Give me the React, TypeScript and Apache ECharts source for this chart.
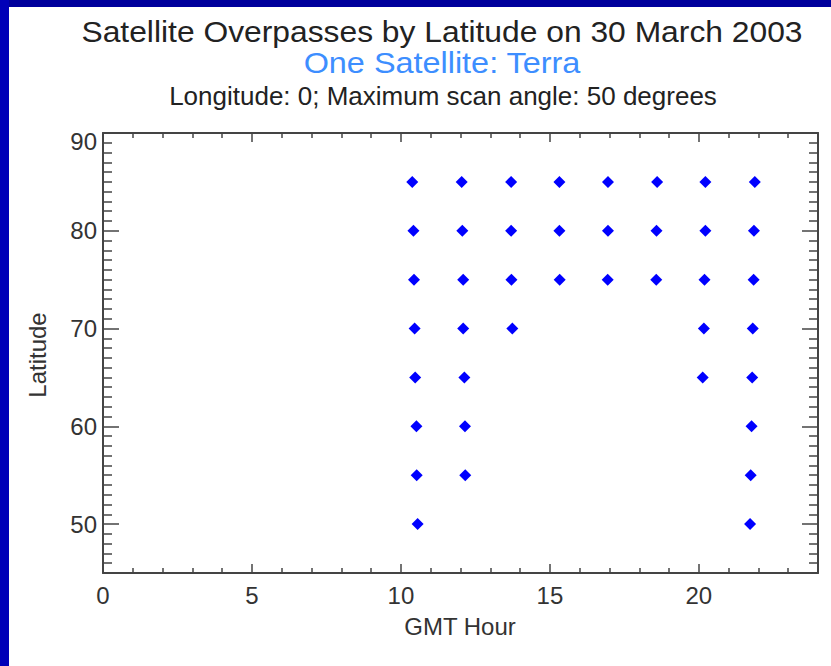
import React, { useEffect, useRef } from "react";
import * as echarts from "echarts";

// ---- data ----
const titleText = "Satellite Overpasses by Latitude on 30 March 2003";
const subtitleText = "One Satellite: Terra";
const noteText = "Longitude: 0; Maximum scan angle: 50 degrees";
const xName = "GMT Hour";
const yName = "Latitude";

// overpass hours (GMT) at each latitude
const hours85 = [10.38, 12.04, 13.7, 15.32, 16.95, 18.6, 20.22, 21.88];
const hours80 = [10.42, 12.06, 13.7, 15.32, 16.95, 18.58, 20.22, 21.85];
const hours75 = [10.44, 12.09, 13.71, 15.33, 16.94, 18.57, 20.19, 21.84];
const hours70 = [10.46, 12.09, 13.74, 20.17, 21.81];
const hours65 = [10.48, 12.13, 20.13, 21.79];
const hours60 = [10.52, 12.15, 21.77];
const hours55 = [10.53, 12.16, 21.74];
const hours50 = [10.56, 21.72];
const latitudes = [85, 80, 75, 70, 65, 60, 55, 50];
const hoursByLat = [hours85, hours80, hours75, hours70, hours65, hours60, hours55, hours50];

const xMajorTicks = [0, 5, 10, 15, 20];
const xMinorTicks = [1, 2, 3, 4, 6, 7, 8, 9, 11, 12, 13, 14, 16, 17, 18, 19, 21, 22, 23];
const yMajorTicks = [50, 60, 70, 80, 90];
const yLabels = [50, 60, 70, 80];
const yTopLabel = [90];
const yMinorTicks = [
  46, 47, 48, 49, 51, 52, 53, 54, 55, 56, 57, 58, 59, 61, 62, 63, 64, 65, 66, 67, 68, 69,
  71, 72, 73, 74, 75, 76, 77, 78, 79, 81, 82, 83, 84, 85, 86, 87, 88, 89,
];

export default function App() {
  const ref = useRef<HTMLDivElement>(null);
  useEffect(() => {
    if (!ref.current) return;
    const chart = echarts.init(ref.current, undefined, { renderer: "svg" });
    const font = "Liberation Sans, Arial, Helvetica, sans-serif";
    const axisColor = "#444";
    const textColor = "#333";
    const points: number[][] = [];
    latitudes.forEach((lat, i) => hoursByLat[i].forEach((h) => points.push([h, lat])));

    const xBase = { type: "value", min: 0, max: 24, splitLine: { show: false } } as any;
    const yBase = { type: "value", min: 45, max: 90, splitLine: { show: false } } as any;
    const tickStyle = { color: axisColor, width: 1.5 };

    chart.setOption({
      animation: false,
      backgroundColor: "#ffffff",
      grid: { left: 103, top: 133, right: 13, bottom: 93, containLabel: false, outerBoundsMode: "none" },
      xAxis: [
        {
          ...xBase,
          position: "bottom",
          axisLine: { show: true, onZero: false, lineStyle: { color: axisColor, width: 2 } },
          axisTick: { show: true, inside: true, length: 9, customValues: xMajorTicks, lineStyle: tickStyle },
          axisLabel: { show: true, customValues: xMajorTicks, margin: 10, fontSize: 24, color: textColor, fontFamily: font },
        },
        {
          ...xBase,
          position: "bottom",
          axisLine: { show: false, onZero: false },
          axisTick: { show: true, inside: true, length: 5, customValues: xMinorTicks, lineStyle: tickStyle },
          axisLabel: { show: false },
        },
        {
          ...xBase,
          position: "top",
          axisLine: { show: true, onZero: false, lineStyle: { color: axisColor, width: 2 } },
          axisTick: { show: true, inside: true, length: 9, customValues: xMajorTicks, lineStyle: tickStyle },
          axisLabel: { show: false },
        },
        {
          ...xBase,
          position: "top",
          axisLine: { show: false, onZero: false },
          axisTick: { show: true, inside: true, length: 5, customValues: xMinorTicks, lineStyle: tickStyle },
          axisLabel: { show: false },
        },
      ],
      yAxis: [
        {
          ...yBase,
          position: "left",
          axisLine: { show: true, onZero: false, lineStyle: { color: axisColor, width: 2 } },
          axisTick: { show: true, inside: true, length: 16, customValues: yMajorTicks, lineStyle: tickStyle },
          axisLabel: { show: true, customValues: yLabels, margin: 6, fontSize: 24, color: textColor, fontFamily: font },
        },
        {
          ...yBase,
          position: "left",
          axisLine: { show: false, onZero: false },
          axisTick: { show: true, inside: true, length: 9, customValues: yMinorTicks, lineStyle: tickStyle },
          axisLabel: {
            show: true,
            customValues: yTopLabel,
            margin: 6,
            fontSize: 24,
            color: textColor,
            fontFamily: font,
            verticalAlign: "top",
            lineHeight: 16,
          },
        },
        {
          ...yBase,
          position: "right",
          axisLine: { show: true, onZero: false, lineStyle: { color: axisColor, width: 2 } },
          axisTick: { show: true, inside: true, length: 16, customValues: yMajorTicks, lineStyle: tickStyle },
          axisLabel: { show: false },
        },
        {
          ...yBase,
          position: "right",
          axisLine: { show: false, onZero: false },
          axisTick: { show: true, inside: true, length: 9, customValues: yMinorTicks, lineStyle: tickStyle },
          axisLabel: { show: false },
        },
      ],
      series: [
        {
          type: "scatter",
          xAxisIndex: 0,
          yAxisIndex: 0,
          symbol: "diamond",
          symbolSize: 12,
          itemStyle: { color: "#0000ff", opacity: 1 },
          data: points,
        },
      ],
      graphic: [
        { type: "rect", shape: { x: 0, y: 0, width: 831, height: 7 }, style: { fill: "#00009c" } },
        { type: "rect", shape: { x: 0, y: 0, width: 9, height: 666 }, style: { fill: "#0000b8" } },
        {
          type: "text",
          x: 442,
          y: 32,
          scaleX: 1.06,
          style: { text: titleText, fontSize: 30, fontFamily: font, fill: "#222", align: "center", verticalAlign: "middle" },
        },
        {
          type: "text",
          x: 442,
          y: 63,
          scaleX: 1.08,
          style: { text: subtitleText, fontSize: 30, fontFamily: font, fill: "#3d8eff", align: "center", verticalAlign: "middle" },
        },
        {
          type: "text",
          x: 443,
          y: 96,
          scaleX: 1.04,
          style: { text: noteText, fontSize: 25, fontFamily: font, fill: "#222", align: "center", verticalAlign: "middle" },
        },
        {
          type: "text",
          x: 460,
          y: 626,
          style: { text: xName, fontSize: 24, fontFamily: font, fill: textColor, align: "center", verticalAlign: "middle" },
        },
        {
          type: "text",
          x: 37,
          y: 355,
          rotation: Math.PI / 2,
          style: { text: yName, fontSize: 24, fontFamily: font, fill: textColor, align: "center", verticalAlign: "middle" },
        },
      ],
    });
    return () => chart.dispose();
  }, []);
  return (
    <div
      ref={ref}
      style={{ position: "fixed", left: 0, top: 0, width: 831, height: 666 }}
    />
  );
}
